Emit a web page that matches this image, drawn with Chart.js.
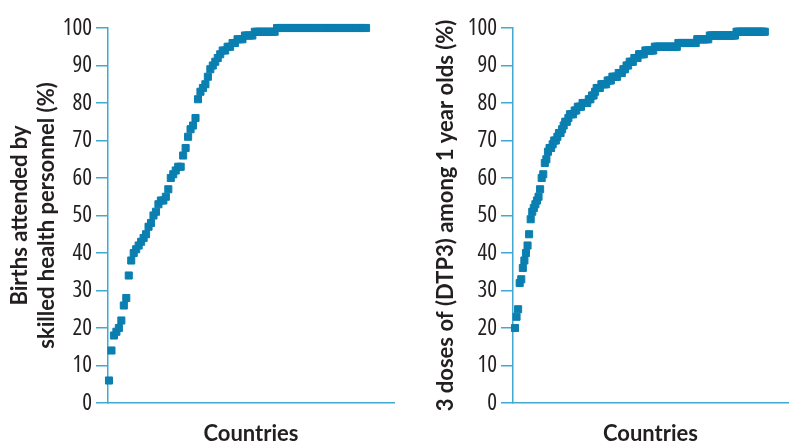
<!DOCTYPE html>
<html>
<head>
<meta charset="utf-8">
<script src="https://cdn.jsdelivr.net/npm/chart.js@4.4.1/dist/chart.umd.min.js"></script>
<style>
    html, body { margin: 0; padding: 0; background: #ffffff; }
    #wrap { position: relative; width: 794px; height: 446px; overflow: hidden; }
    canvas { position: absolute; top: 0; }
    #birthsChart { left: 0; }
    #dtp3Chart { left: 400px; }
</style>
</head>
<body>
<div id="wrap">
    <canvas id="birthsChart" width="400" height="446"></canvas>
    <canvas id="dtp3Chart" width="394" height="446"></canvas>
</div>
<script>
const birthsTitle = ['Births attended by', 'skilled health personnel (%)'];
const dtp3Title = '3 doses of (DTP3) among 1 year olds (%)';
const xTitle = 'Countries';
const yTicks = [0, 10, 20, 30, 40, 50, 60, 70, 80, 90, 100];

// one value per country, sorted ascending
const birthsValues = [
    6, 14, 18, 19, 20, 22, 26, 28, 34, 38,
    40, 41, 42, 43, 44, 45, 47, 48, 50, 51,
    53, 54, 54, 55, 57, 60, 61, 62, 63, 63,
    66, 68, 71, 73, 74, 76, 81, 83, 84, 85,
    87, 89, 90, 91, 92, 93, 94, 94, 95, 95,
    96, 96, 97, 97, 97, 98, 98, 98, 98, 99,
    99, 99, 99, 99, 99, 99, 99, 99, 100, 100,
    100, 100, 100, 100, 100, 100, 100, 100, 100, 100,
    100, 100, 100, 100, 100, 100, 100, 100, 100, 100,
    100, 100, 100, 100, 100, 100, 100, 100, 100, 100,
    100, 100, 100, 100, 100,
];

const dtp3Values = [
    20, 23, 25, 32, 33, 36, 38, 40, 42, 45,
    49, 51, 52, 53, 54, 55, 57, 60, 61, 64,
    65, 67, 68, 68, 69, 70, 70, 71, 72, 72,
    73, 74, 75, 75, 76, 77, 77, 77, 78, 78,
    79, 79, 79, 80, 80, 80, 80, 81, 81, 82,
    82, 83, 84, 84, 84, 85, 85, 85, 85, 86,
    86, 86, 87, 87, 87, 87, 88, 88, 88, 89,
    89, 90, 90, 91, 91, 91, 92, 92, 92, 93,
    93, 93, 93, 94, 94, 94, 94, 94, 94, 95,
    95, 95, 95, 95, 95, 95, 95, 95, 95, 95,
    95, 95, 95, 95, 96, 96, 96, 96, 96, 96,
    96, 96, 96, 96, 96, 96, 97, 97, 97, 97,
    97, 97, 97, 97, 98, 98, 98, 98, 98, 98,
    98, 98, 98, 98, 98, 98, 98, 98, 98, 98,
    98, 99, 99, 99, 99, 99, 99, 99, 99, 99,
    99, 99, 99, 99, 99, 99, 99, 99, 99, 99,
];

const markerColor = '#0a7fb0';
const axisColor = '#41a9d0';
const textColor = '#231f20';
const titleFamily = 'Lato, "Open Sans", sans-serif';
// 'condensed' ends up as the font-stretch part of the canvas font string
const tickFont = { family: '"Open Sans", sans-serif', size: 23, weight: 'condensed' };

function makeChart(canvas, values, yTitle, opts) {
    const points = values.map((v, i) => ({ x: i, y: v }));

    return new Chart(canvas, {
        type: 'scatter',
        data: {
            datasets: [
                {
                    data: points,
                    pointStyle: 'rect',
                    pointRadius: 5,
                    pointHoverRadius: 5,
                    pointBackgroundColor: markerColor,
                    pointBorderColor: markerColor,
                    pointBorderWidth: 1,
                    showLine: false,
                    clip: false,
                },
            ],
        },
        options: {
            responsive: false,
            animation: false,
            devicePixelRatio: 1,
            layout: { padding: { top: 28, right: opts.padRight, left: 0, bottom: 0 } },
            plugins: {
                legend: { display: false },
                tooltip: { enabled: false },
            },
            scales: {
                x: {
                    type: 'linear',
                    min: opts.xMin,
                    max: opts.xMax,
                    ticks: { display: false },
                    grid: { display: false },
                    border: { display: true, color: axisColor, width: 1.5 },
                    title: {
                        display: true,
                        text: xTitle,
                        color: textColor,
                        font: { family: titleFamily, size: 22, weight: 'bold', lineHeight: 1 },
                        padding: { top: 0, bottom: 1 },
                    },
                    afterFit: (scale) => { scale.height = 43; },
                },
                y: {
                    min: 0,
                    max: 100,
                    afterBuildTicks: (scale) => { scale.ticks = yTicks.map((v) => ({ value: v })); },
                    ticks: { color: textColor, font: tickFont, padding: 4 },
                    grid: {
                        drawOnChartArea: false,
                        drawTicks: true,
                        tickLength: 12,
                        color: axisColor,
                        lineWidth: 1.5,
                    },
                    border: { display: true, color: axisColor, width: 1.5 },
                    title: {
                        display: true,
                        text: yTitle,
                        color: textColor,
                        font: { family: titleFamily, size: 22, weight: 'bold', lineHeight: 1.25 },
                        padding: { top: opts.titlePad, bottom: 0 },
                    },
                    afterFit: (scale) => { scale.width = opts.yWidth; },
                },
            },
        },
    });
}

makeChart(document.getElementById('birthsChart'), birthsValues, birthsTitle, {
    xMin: -0.4, xMax: 115.3, padRight: 5, yWidth: 108, titlePad: 6,
});

makeChart(document.getElementById('dtp3Chart'), dtp3Values, dtp3Title, {
    xMin: -1.25, xMax: 173.75, padRight: 1, yWidth: 113, titlePad: 32,
});
</script>
</body>
</html>
